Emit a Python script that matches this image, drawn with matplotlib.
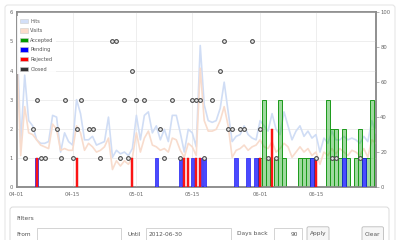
import matplotlib
matplotlib.use("Agg")
import matplotlib.pyplot as plt
from matplotlib.patches import FancyBboxPatch, Rectangle, Patch
import numpy as np
import pandas as pd

# --- data (day offsets from 2012-04-01) ---
start = pd.Timestamp("2012-04-01")
tick_labels = ["04-01", "04-15", "05-01", "05-15", "06-01", "06-15"]

# hits / visits per day, right axis (0-100)
hits = [93, 25, 64, 38, 35, 27, 25, 25, 26, 41, 40, 20, 31, 26, 24, 50, 42, 27, 27, 29,
        24, 25, 26, 40, 17, 21, 19, 20, 18, 22, 41, 27, 41, 43, 31, 35, 27, 33, 26, 41,
        41, 31, 20, 33, 31, 23, 81, 47, 38, 37, 38, 45, 60, 43, 26, 29, 30, 35, 30, 28,
        27, 38, 35, 32, 42, 33, 30, 43, 35, 27, 32, 35, 29, 32, 28, 30, 20, 28, 25, 32,
        27, 27, 29, 27, 28, 27, 25, 29, 26, 38, 31]
visits = [79, 18, 46, 31, 30, 27, 24, 23, 22, 36, 33, 21, 22, 21, 21, 35, 31, 21, 25, 23,
          20, 21, 23, 28, 10, 15, 12, 15, 13, 17, 31, 20, 28, 32, 24, 23, 21, 22, 20, 28,
          27, 21, 17, 25, 23, 18, 68, 38, 32, 32, 33, 38, 46, 35, 17, 21, 22, 24, 21, 23,
          24, 27, 23, 22, 26, 20, 22, 25, 23, 17, 20, 23, 20, 22, 18, 20, 13, 20, 18, 22,
          19, 22, 20, 18, 21, 20, 18, 22, 17, 27, 25]

# bars, left axis
accepted_days = [61, 62, 63, 65, 66, 67, 71, 72, 73, 74, 78, 79, 80, 81, 82, 83, 85, 86, 87, 88, 89]
accepted_vals = [1, 3, 1, 1, 3, 1, 1, 1, 1, 1, 3, 2, 2, 1, 2, 1, 1, 2, 1, 1, 3]
pending_days = [5, 35, 41, 44, 46, 47, 55, 58, 60, 74, 82, 87]
pending_vals = [1, 1, 1, 1, 1, 1, 1, 1, 1, 1, 1, 1]
rejected_days = [5, 15, 29, 42, 43, 45, 46, 61, 64, 75]
rejected_vals = [1, 1, 1, 1, 1, 1, 1, 1, 2, 1]

# closed points
closed_days = [2, 6, 7, 11, 14, 21, 26, 28, 37, 41, 47, 63, 65, 75, 79, 80, 86,
               4, 10, 15, 18, 19, 36, 53, 54, 56, 57, 61,
               5, 12, 16, 27, 30, 32, 39, 44, 45, 46, 49,
               29, 51,
               24, 25, 52, 59]
closed_vals = [1] * 17 + [2] * 11 + [3] * 11 + [4] * 2 + [5] * 4

days = np.arange(len(hits))
tick_pos = [(pd.Timestamp("2012-" + t) - start).days for t in tick_labels]

fig = plt.figure(figsize=(4, 2.4), dpi=100)

# background page / card / filter panel in pixel coords
bg = fig.add_axes([0, 0, 1, 1], zorder=-1)
bg.set_xlim(0, 400)
bg.set_ylim(240, 0)
bg.axis("off")
bg.add_patch(FancyBboxPatch((5, 5), 390, 250, boxstyle="round,pad=0,rounding_size=3",
                            ec="#e6e6e6", fc="white", lw=0.8))
bg.add_patch(FancyBboxPatch((10, 207), 379, 45, boxstyle="round,pad=0,rounding_size=3",
                            ec="#dadada", fc="white", lw=0.7))
tc = "#555555"
fs = 4.2
bg.text(16, 218, "Filters", fontsize=fs, color=tc, va="center")
bg.text(16, 234, "From", fontsize=fs, color=tc, va="center")
bg.add_patch(Rectangle((37, 227.5), 84, 14, ec="#cccccc", fc="white", lw=0.6))
bg.text(127, 234, "Until", fontsize=fs, color=tc, va="center")
bg.add_patch(Rectangle((146, 227.5), 84.5, 14, ec="#cccccc", fc="white", lw=0.6))
bg.text(149, 234, "2012-06-30", fontsize=fs, color=tc, va="center")
bg.text(237, 234, "Days back", fontsize=fs, color=tc, va="center")
bg.add_patch(Rectangle((273.5, 227.5), 28, 14, ec="#cccccc", fc="white", lw=0.6))
bg.text(298.5, 234, "90", fontsize=fs, color=tc, va="center", ha="right")
bg.add_patch(FancyBboxPatch((307, 226.8), 22, 15, boxstyle="round,pad=0,rounding_size=1.5",
                            ec="#bbbbbb", fc="#f6f6f6", lw=0.6))
bg.text(318, 234, "Apply", fontsize=fs, color=tc, va="center", ha="center")
bg.add_patch(FancyBboxPatch((362, 226.8), 21.5, 15, boxstyle="round,pad=0,rounding_size=1.5",
                            ec="#bbbbbb", fc="#f6f6f6", lw=0.6))
bg.text(372.8, 234, "Clear", fontsize=fs, color=tc, va="center", ha="center")

# main plot
ax = fig.add_axes([16.7 / 400, 53 / 240, (375.8 - 16.7) / 400, (187 - 12.3) / 240])
ax2 = ax.twinx()
ax.set_zorder(ax2.get_zorder() + 1)
ax.patch.set_visible(False)

ax.set_xlim(0, 90)
ax.set_ylim(0, 6)
ax2.set_ylim(0, 100)

ax.set_axisbelow(True)
ax.grid(True, color="#ebebeb", lw=0.6)

ax.plot(days, hits, color="#d0ddf5", lw=1.2, transform=ax2.transData, zorder=1)
ax.plot(days, visits, color="#f8dccd", lw=1.2, transform=ax2.transData, zorder=1)

ax.bar(accepted_days, accepted_vals, width=1.0, color=(0.1, 0.65, 0.1, 0.42),
       edgecolor="#1a9a1a", lw=0.7, zorder=2)
ax.bar(pending_days, pending_vals, width=0.85, color="#4a4aff",
       edgecolor="#0000ee", lw=0.4, zorder=3)
ax.bar(rejected_days, rejected_vals, width=0.5, color="#ff1a1a",
       edgecolor="#ee0000", lw=0.3, zorder=4)

ax.plot(closed_days, closed_vals, "o", ms=2.7, mfc="#e8e8e8", mec="#444444",
        mew=0.75, zorder=5, clip_on=False)

ax.set_xticks(tick_pos)
ax.set_xticklabels(tick_labels)
ax.set_yticks(range(7))
ax2.set_yticks([0, 20, 40, 60, 80, 100])

lc = "#666666"
ax.tick_params(axis="both", length=0, labelsize=3.8, labelcolor=lc)
ax.tick_params(axis="x", pad=3.5)
ax.tick_params(axis="y", pad=2.5)
ax2.tick_params(axis="y", length=2.2, width=0.5, color="#999999", labelsize=3.8,
                labelcolor=lc, pad=1)

for a in (ax, ax2):
    for s in a.spines.values():
        s.set_color("#8c8c8c")
        s.set_linewidth(1.1)

handles = [
    Patch(facecolor="#d3dff7", edgecolor="#cccccc", lw=0.4, label="Hits"),
    Patch(facecolor="#fbdccb", edgecolor="#cccccc", lw=0.4, label="Visits"),
    Patch(facecolor="#009900", edgecolor="#cccccc", lw=0.4, label="Accepted"),
    Patch(facecolor="#0000ff", edgecolor="#cccccc", lw=0.4, label="Pending"),
    Patch(facecolor="#ff0000", edgecolor="#cccccc", lw=0.4, label="Rejected"),
    Patch(facecolor="#333333", edgecolor="#cccccc", lw=0.4, label="Closed"),
]
leg = ax.legend(handles=handles, loc="upper left", bbox_to_anchor=(0, 1 - 3 / 174.7),
                fontsize=3.6, handlelength=1.6, handleheight=1.0, handletextpad=0.5,
                labelspacing=0.92, borderpad=0.5, borderaxespad=0.15, frameon=True,
                fancybox=False)
leg.get_frame().set_facecolor("white")
leg.get_frame().set_alpha(0.85)
leg.get_frame().set_edgecolor("none")
for t in leg.get_texts():
    t.set_color("#545454")

fig.savefig("out.png", dpi=100)
